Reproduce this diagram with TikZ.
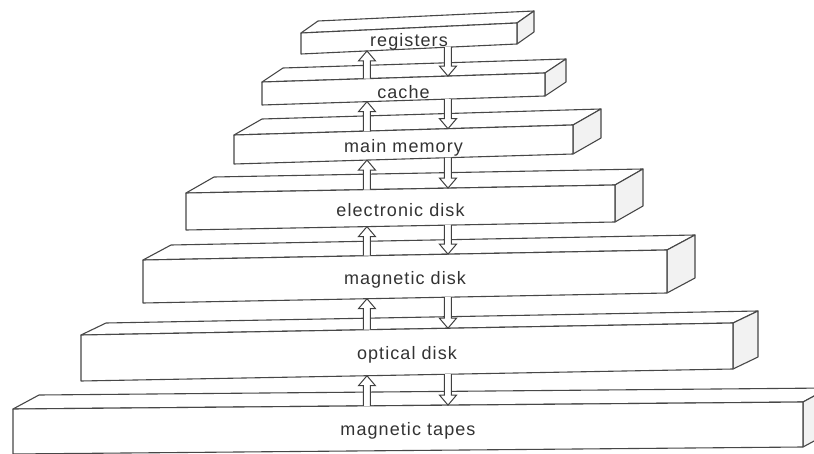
\documentclass[tikz,border=0pt]{standalone}
\usepackage{fontspec}
\newfontfamily\lblfont{Liberation Sans}[LetterSpace=6]
\usetikzlibrary{calc}
\tikzset{
  edge/.style={draw=black!72, line width=1.1pt, line join=round},
  frontface/.style={edge, fill=white},
  topface/.style={edge, fill=white},
  sideface/.style={edge, fill=black!5},
  lbl/.style={font=\lblfont\fontsize{18}{20}\selectfont, text=black!80, inner sep=0pt},
  harrow/.style={draw=black!75, line width=1pt, fill=white, line join=miter}
}
% #1 id, #2 xl, #3 xr, #4 ytl, #5 ytr, #6 h, #7 dx, #8 dy, #9 label
\newcommand\membar[9]{%
  \coordinate (#1tl) at (#2,#4);
  \coordinate (#1tr) at (#3,#5);
  \coordinate (#1bl) at (#2,#4+#6);
  \coordinate (#1br) at (#3,#5+#6);
  \coordinate (#1ktl) at (#2+#7,#4+#8);
  \coordinate (#1ktr) at (#3+#7,#5+#8);
  \coordinate (#1kbr) at (#3+#7,#5+#6+#8);
  \path[topface] (#1tl) -- (#1ktl) -- (#1ktr) -- (#1tr) -- cycle;
  \path[sideface] (#1tr) -- (#1ktr) -- (#1kbr) -- (#1br) -- cycle;
  \path[frontface] (#1tl) -- (#1tr) -- (#1br) -- (#1bl) -- cycle;
  \node[lbl] (#1) at ($($(#1tl)!.5!(#1br)$)+(0,3)$) {#9};
}
\newcommand\hup[2]{%
  \draw[harrow] let \p1=(#1), \p2=(#2) in
    (\x1-3.5pt,\y1) -- (\x1-3.5pt,\y2-10pt) -- (\x1-8.5pt,\y2-10pt) -- (\x1,\y2)
    -- (\x1+8.5pt,\y2-10pt) -- (\x1+3.5pt,\y2-10pt) -- (\x1+3.5pt,\y1);}
\newcommand\hdown[2]{%
  \draw[harrow] let \p1=(#1), \p2=(#2) in
    (\x1-3.5pt,\y1) -- (\x1-3.5pt,\y2+10pt) -- (\x1-8.5pt,\y2+10pt) -- (\x1,\y2)
    -- (\x1+8.5pt,\y2+10pt) -- (\x1+3.5pt,\y2+10pt) -- (\x1+3.5pt,\y1);}
% #1 upper id, #2 lower id
\newcommand\linkbars[2]{%
  \coordinate (#2ua) at (intersection of #2tl--#2tr and 367,0--367,1);
  \coordinate (#1ub) at (intersection of #1bl--#1br and 367,0--367,1);
  \coordinate (#1da) at (intersection of #1bl--#1br and 448,0--448,1);
  \coordinate (#2db) at (intersection of #2tl--#2tr and 448,0--448,1);
  \hup{#2ua}{#1ub}
  \hdown{#1da}{#2db}
}
\begin{document}
\begin{tikzpicture}[x=1pt,y=-1pt]
\useasboundingbox (0,0) rectangle (814,454);
\clip (0,0) rectangle (814,454);
\fill[white] (0,0) rectangle (814,454);
\membar{reg}{301}{517}{33}{23}{21}{17}{-12}{registers}
\membar{cac}{262}{545}{82}{73}{23}{21}{-14}{cache}
\membar{mmm}{234}{573}{135}{125}{29}{28}{-16}{main memory}
\membar{eld}{186}{615}{193}{185}{37}{28}{-16}{electronic disk}
\membar{mgd}{143}{667}{260}{250}{43}{28}{-15}{magnetic disk}
\membar{opd}{81}{733}{335}{323}{46}{25}{-12}{optical disk}
\membar{mgt}{13}{803}{409}{402}{45}{26}{-14}{magnetic tapes}
\linkbars{reg}{cac}
\linkbars{cac}{mmm}
\linkbars{mmm}{eld}
\linkbars{eld}{mgd}
\linkbars{mgd}{opd}
\linkbars{opd}{mgt}
\end{tikzpicture}
\end{document}
